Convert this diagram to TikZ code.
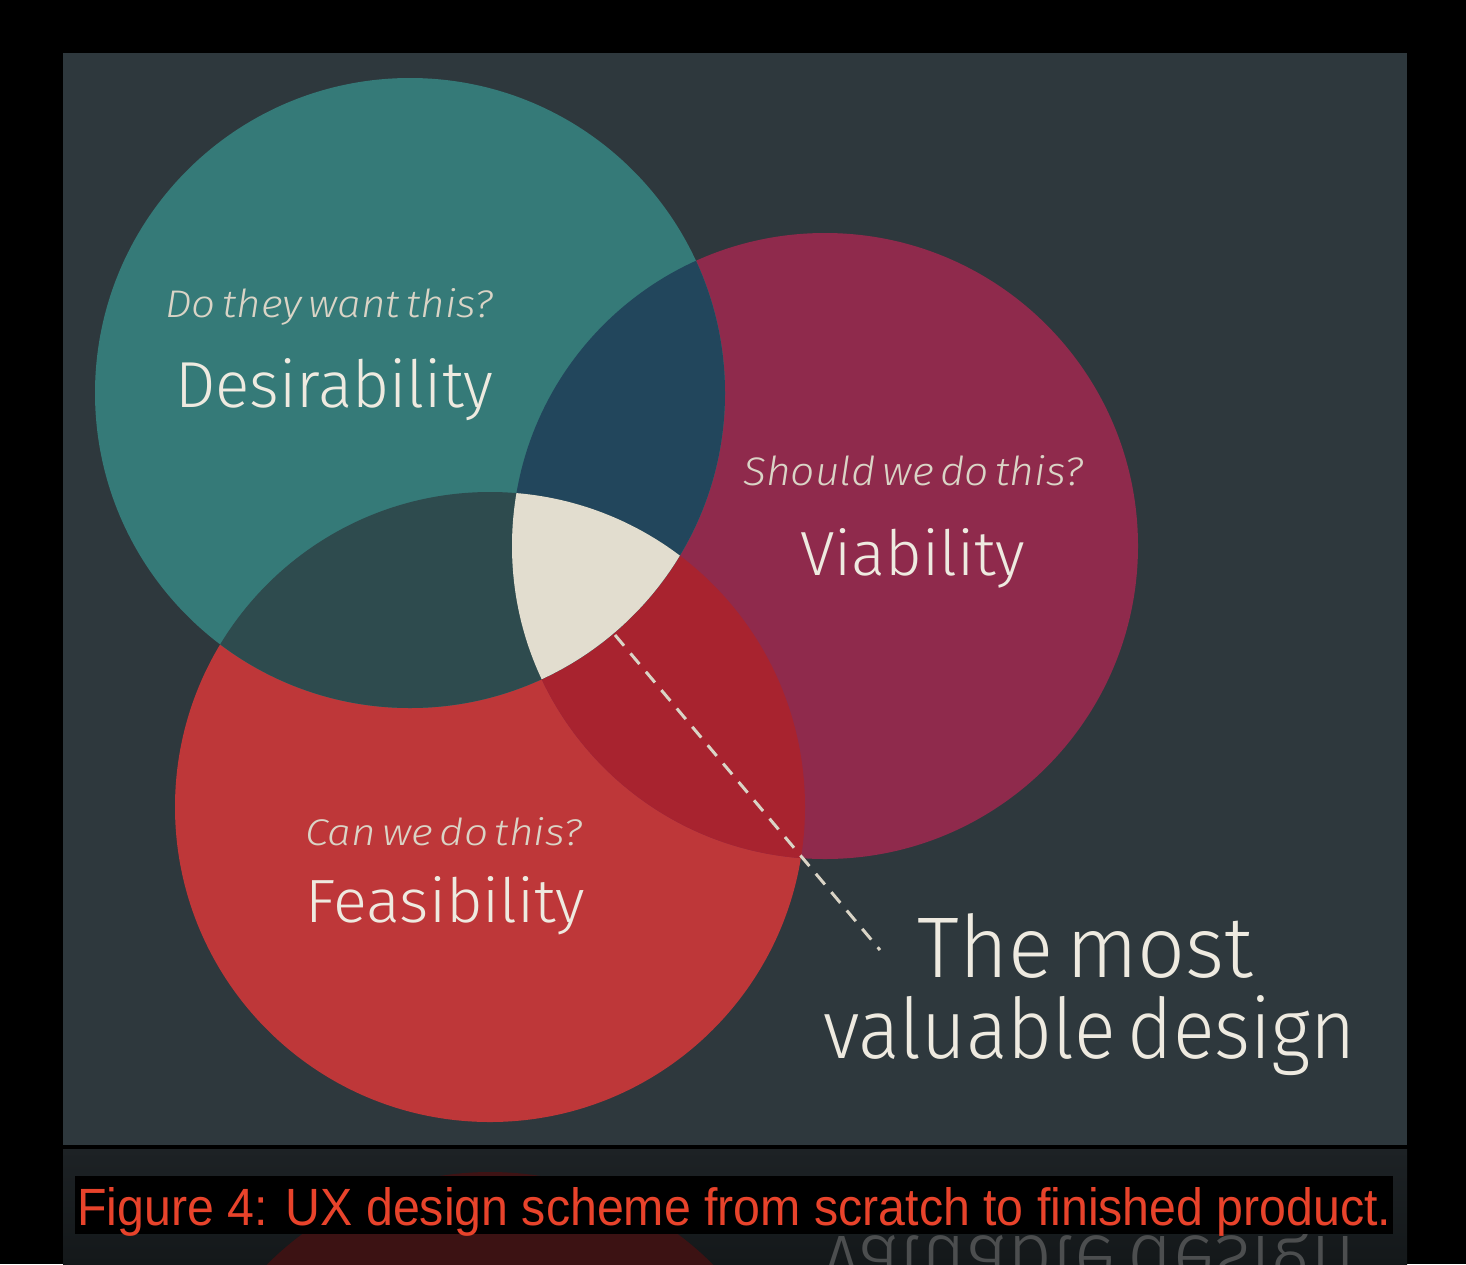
\documentclass[tikz,border=0pt]{standalone}
\usepackage{fontspec}
\setmainfont{Fira Sans}[UprightFont=* Light, ItalicFont=* Light Italic, WordSpace=0.55]
\newfontfamily\capfont{Liberation Sans}
\definecolor{panel}{HTML}{2E383D}
\definecolor{teal}{HTML}{357A78}
\definecolor{maroon}{HTML}{8F2A4C}
\definecolor{redc}{HTML}{BE3739}
\definecolor{dv}{HTML}{22465C}
\definecolor{df}{HTML}{2E4B4E}
\definecolor{vf}{HTML}{A8232F}
\definecolor{cream}{HTML}{E2DDCF}
\definecolor{txt}{HTML}{EEEAE0}
\definecolor{qtxt}{HTML}{DAD4C6}
\definecolor{captxt}{HTML}{E8432B}
\definecolor{stripT}{HTML}{1D2225}
\definecolor{stripB}{HTML}{14181A}
\definecolor{reflT}{HTML}{3E1314}
\definecolor{reflB}{HTML}{2C0D0E}
\definecolor{refltxt}{HTML}{4C4E4F}
\newcommand{\fitbox}[3]{\resizebox{#1}{#2}{#3}}
\tikzset{
  biglabel/.style={text=txt, anchor=base west, inner sep=0pt},
  question/.style={text=qtxt, font=\itshape, anchor=base west, inner sep=0pt},
  mostlabel/.style={text=txt, anchor=base west, inner sep=0pt},
  leader/.style={draw=qtxt, line width=1.5pt, dash pattern=on 7pt off 5pt},
}
\begin{document}
\begin{tikzpicture}[x=0.5pt,y=-0.5pt]
\useasboundingbox (0,0) rectangle (1466,1264);
\fill[black] (0,0) rectangle (1466,1264);
% panel
\fill[panel] (63,53) rectangle (1407,1145);
% strip with reflection
\shade[top color=stripT, bottom color=stripB] (63,1149) rectangle (1407,1264);
\begin{scope}
  \clip (63,1149) rectangle (1407,1264);
  \shade[top color=reflT, bottom color=reflB] (490,1487) circle[radius=157.5pt];
  \node[mostlabel, text=refltxt, yscale=-1] (refl) at (823,1236) {\fitbox{266pt}{31.5pt}{valuable design}};
\end{scope}
% circles
\fill[redc] (490,807) circle[radius=157.5pt];
\fill[maroon] (825,546) circle[radius=156.5pt];
\fill[teal] (410,393) circle[radius=157.5pt];
\begin{scope}
  \clip (825,546) circle[radius=156.5pt];
  \fill[vf] (490,807) circle[radius=157.5pt];
\end{scope}
\begin{scope}
  \clip (410,393) circle[radius=157.5pt];
  \fill[dv] (825,546) circle[radius=156.5pt];
  \fill[df] (490,807) circle[radius=157.5pt];
  \clip (825,546) circle[radius=156.5pt];
  \fill[cream] (490,807) circle[radius=157.5pt];
\end{scope}
% labels
\node[question] (dq) at (165,317) {\fitbox{164pt}{14.5pt}{Do they want this?}};
\node[biglabel] (dl) at (175,407) {\fitbox{159pt}{24.5pt}{Desirability}};
\node[question] (vq) at (743,485) {\fitbox{170pt}{15pt}{Should we do this?}};
\node[biglabel] (vl) at (800,575) {\fitbox{112.5pt}{23.5pt}{Viability}};
\node[question] (fq) at (305,845) {\fitbox{138.5pt}{14pt}{Can we do this?}};
\node[biglabel] (fl) at (305,922) {\fitbox{140pt}{23pt}{Feasibility}};
\node[mostlabel] (most) at (917,977) {\fitbox{168pt}{32pt}{The most}};
\node[mostlabel] (valuable) at (823,1058) {\fitbox{266pt}{31.5pt}{valuable design}};
% leader
\coordinate (core) at (615,635);
\coordinate (tip) at (880,950);
\draw[leader] (core) -- (tip);
% caption
\fill[black] (75,1176) rectangle (1393,1234);
\node[inner sep=0pt, anchor=base west, text=captxt] (cap) at (77,1225)
  {\fitbox{657pt}{19pt}{\capfont Figure 4: UX design scheme from scratch to finished product.}};
\end{tikzpicture}
\end{document}
